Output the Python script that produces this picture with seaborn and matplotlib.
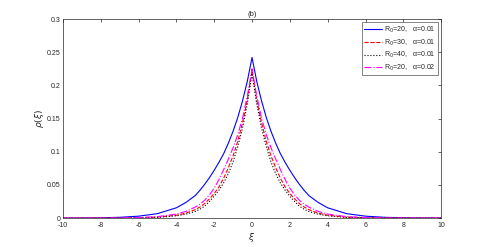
import matplotlib
matplotlib.use("Agg")
import matplotlib.pyplot as plt
import seaborn as sns

# xi grid
xi = [-10, -9, -8, -7, -6, -5, -4, -3.5, -3, -2.75, -2.5, -2.25, -2, -1.75, -1.5, -1.25, -1,
      -0.75, -0.5, -0.25,
      0,
      0.25, 0.5, 0.75, 1, 1.25, 1.5, 1.75, 2, 2.25, 2.5, 2.75, 3, 3.5, 4, 5, 6, 7, 8, 9, 10]

rho_r20_a01 = [0.0001, 0.0002, 0.0005, 0.0012, 0.0029, 0.0067, 0.0155, 0.0235, 0.034, 0.042,
               0.051, 0.061, 0.072, 0.084, 0.097, 0.113, 0.131, 0.152, 0.177, 0.206,
               0.242,
               0.206, 0.177, 0.152, 0.131, 0.113, 0.097, 0.084, 0.072, 0.061, 0.051, 0.042,
               0.034, 0.0235, 0.0155, 0.0067, 0.0029, 0.0012, 0.0005, 0.0002, 0.0001]
rho_r30_a01 = [0.0, 0.0, 0.0001, 0.0002, 0.0005, 0.0015, 0.0043, 0.0074, 0.0128, 0.0168,
               0.022, 0.029, 0.037, 0.047, 0.060, 0.076, 0.094, 0.116, 0.144, 0.178,
               0.222,
               0.178, 0.144, 0.116, 0.094, 0.076, 0.060, 0.047, 0.037, 0.029, 0.022, 0.0168,
               0.0128, 0.0074, 0.0043, 0.0015, 0.0005, 0.0002, 0.0001, 0.0, 0.0]
rho_r40_a01 = [0.0, 0.0, 0.0, 0.0001, 0.0004, 0.0011, 0.0034, 0.0058, 0.010, 0.0135,
               0.018, 0.025, 0.033, 0.042, 0.053, 0.067, 0.085, 0.108, 0.136, 0.172,
               0.218,
               0.172, 0.136, 0.108, 0.085, 0.067, 0.053, 0.042, 0.033, 0.025, 0.018, 0.0135,
               0.010, 0.0058, 0.0034, 0.0011, 0.0004, 0.0001, 0.0, 0.0, 0.0]
rho_r20_a02 = [0.0, 0.0, 0.0001, 0.0003, 0.0008, 0.0022, 0.0061, 0.010, 0.0166, 0.021,
               0.027, 0.035, 0.045, 0.058, 0.073, 0.089, 0.106, 0.126, 0.151, 0.184,
               0.225,
               0.184, 0.151, 0.126, 0.106, 0.089, 0.073, 0.058, 0.045, 0.035, 0.027, 0.021,
               0.0166, 0.010, 0.0061, 0.0022, 0.0008, 0.0003, 0.0001, 0.0, 0.0]

labels = ["R$_0$=20,   \u03b1=0.01", "R$_0$=30,   \u03b1=0.01",
          "R$_0$=40,   \u03b1=0.01", "R$_0$=20,   \u03b1=0.02"]
xticks = [-10, -8, -6, -4, -2, 0, 2, 4, 6, 8, 10]
yticks = [0, 0.05, 0.1, 0.15, 0.2, 0.25, 0.3]
ytick_labels = ["0", "0.05", "0.1", "0.15", "0.2", "0.25", "0.3"]

sns.set_theme(style="white")
plt.rcParams['font.family'] = ['Liberation Sans', 'DejaVu Sans']
plt.rcParams['mathtext.fontset'] = 'dejavusans'

fig = plt.figure(figsize=(4.87, 2.47), dpi=100)
ax = fig.add_axes([0.129, 0.117, 0.777, 0.806])

styles = [
    (rho_r20_a01, '#0000ff', '-'),
    (rho_r30_a01, '#ff0000', '--'),
    (rho_r40_a01, '#000000', ':'),
    (rho_r20_a02, '#ff00ff', '-.'),
]
for (vals, col, ls), lab in zip(styles, labels):
    sns.lineplot(x=xi, y=vals, ax=ax, color=col, linestyle=ls, linewidth=0.8, label=lab)

ax.set_xlim(-10, 10)
ax.set_ylim(0, 0.3)
ax.set_xticks(xticks)
ax.set_xticklabels([str(t) for t in xticks])
ax.set_yticks(yticks)
ax.set_yticklabels(ytick_labels)
ax.tick_params(direction='in', length=2.5, width=0.5, colors='#262626', labelsize=5,
               top=True, right=True, pad=1.5)
ax.tick_params(axis='x', pad=3)
for sp in ax.spines.values():
    sp.set_linewidth(0.5)
    sp.set_color('#262626')

ax.set_xlabel(r'$\xi$', fontsize=6.5, labelpad=1, color='#262626')
ax.set_ylabel(r'$\rho(\xi)$', fontsize=6.5, labelpad=1, color='#262626')
ax.set_title('(b)', fontsize=5.5, pad=2, color='#262626')

leg = ax.legend(loc='upper right', fontsize=5, frameon=True, fancybox=False,
                handlelength=2.6, handletextpad=0.2, borderpad=0.35, labelspacing=0.35,
                borderaxespad=0.5)
leg.get_frame().set_edgecolor('#262626')
leg.get_frame().set_linewidth(0.5)

fig.savefig('out.png', dpi=100)
